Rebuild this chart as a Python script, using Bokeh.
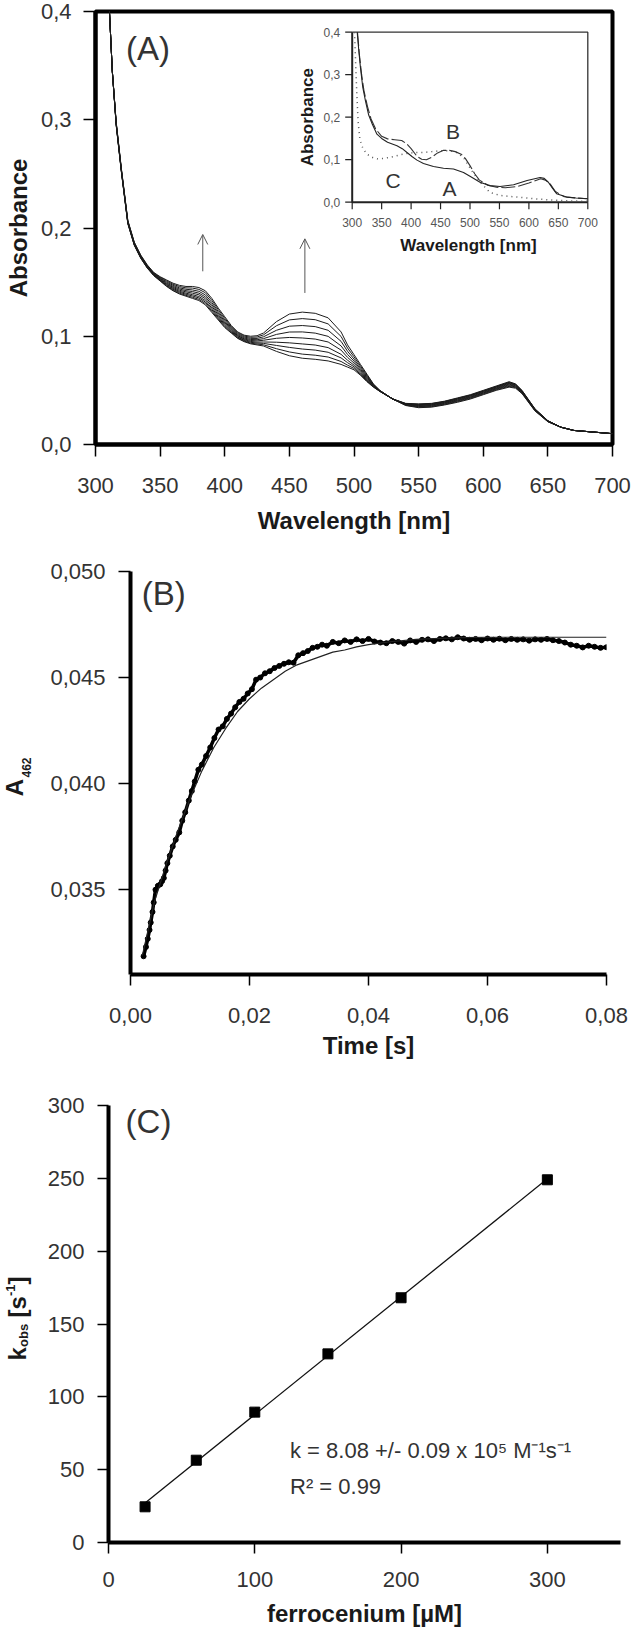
import math
from bokeh.plotting import figure
from bokeh.layouts import column, row
from bokeh.models import (Range1d, FixedTicker, CustomJSTickFormatter, Label,
                          Arrow, OpenHead)
from bokeh.core.properties import value
from bokeh.embed import file_html
from bokeh.resources import INLINE

FONT = "Liberation Sans"
TXT = "#333333"
LAB = "#1a1a1a"

# ---------------- Panel A : spectra ----------------
wavelength = [310, 313, 316, 320, 325, 330, 335, 340, 345, 350, 355, 360, 365, 370, 375,
              380, 385, 390, 395, 400, 405, 410, 415, 420, 425, 430, 440, 450, 460, 470,
              480, 490, 495, 500, 505, 510, 515, 520, 530, 540, 550, 560, 570, 580, 590,
              600, 610, 620, 625, 630, 640, 650, 660, 670, 680, 690, 700]
spec_1 = [0.420, 0.345, 0.295, 0.252, 0.204, 0.184, 0.172, 0.163, 0.156, 0.151, 0.146, 0.142, 0.139, 0.137, 0.135,
          0.133, 0.129, 0.122, 0.115, 0.108, 0.103, 0.098, 0.095, 0.093, 0.092, 0.091, 0.086, 0.082, 0.0797, 0.0787,
          0.0772, 0.074, 0.0715, 0.069, 0.064, 0.058, 0.053, 0.049, 0.042, 0.038, 0.0375, 0.038, 0.040, 0.043, 0.046,
          0.050, 0.054, 0.058, 0.056, 0.050, 0.033, 0.022, 0.016, 0.013, 0.012, 0.011, 0.010]
spec_2 = [0.420, 0.345, 0.2953, 0.2523, 0.2043, 0.1843, 0.1723, 0.1633, 0.1563, 0.1514, 0.1465, 0.1426, 0.1397, 0.1378, 0.1360,
          0.1341, 0.1302, 0.1232, 0.1160, 0.1089, 0.1036, 0.0985, 0.0955, 0.0936, 0.0928, 0.0921, 0.0885, 0.0855, 0.0835, 0.0825,
          0.0808, 0.0767, 0.0733, 0.0703, 0.0649, 0.0586, 0.0533, 0.0491, 0.042, 0.0378, 0.0372, 0.0377, 0.0397, 0.0426, 0.0456,
          0.0496, 0.0536, 0.0575, 0.0556, 0.0497, 0.0328, 0.0219, 0.016, 0.013, 0.012, 0.011, 0.010]
spec_3 = [0.420, 0.345, 0.2956, 0.2526, 0.2046, 0.1846, 0.1726, 0.1636, 0.1566, 0.1518, 0.1472, 0.1434, 0.1406, 0.1388, 0.1372,
          0.1354, 0.1316, 0.1246, 0.1172, 0.1100, 0.1044, 0.0992, 0.0962, 0.0944, 0.0937, 0.0934, 0.0915, 0.0897, 0.0882, 0.0872,
          0.0852, 0.0800, 0.0756, 0.0718, 0.0660, 0.0594, 0.0536, 0.0492, 0.042, 0.0376, 0.0368, 0.0373, 0.0393, 0.0422, 0.0452,
          0.0492, 0.0532, 0.0570, 0.0552, 0.0494, 0.0326, 0.0218, 0.016, 0.013, 0.012, 0.011, 0.010]
spec_4 = [0.420, 0.345, 0.2959, 0.2529, 0.2049, 0.1849, 0.1729, 0.1639, 0.1569, 0.1522, 0.1479, 0.1442, 0.1415, 0.1398, 0.1384,
          0.1367, 0.1330, 0.1260, 0.1184, 0.1111, 0.1052, 0.0999, 0.0969, 0.0952, 0.0946, 0.0947, 0.0945, 0.0939, 0.0929, 0.0919,
          0.0895, 0.0833, 0.0779, 0.0733, 0.0671, 0.0602, 0.0539, 0.0493, 0.042, 0.0374, 0.0364, 0.0369, 0.0389, 0.0418, 0.0448,
          0.0488, 0.0528, 0.0564, 0.0548, 0.0491, 0.0324, 0.0217, 0.016, 0.013, 0.012, 0.011, 0.010]
spec_5 = [0.420, 0.345, 0.2963, 0.2533, 0.2053, 0.1853, 0.1733, 0.1643, 0.1573, 0.1528, 0.1486, 0.1451, 0.1425, 0.1410, 0.1398,
          0.1383, 0.1347, 0.1277, 0.1198, 0.1124, 0.1061, 0.1006, 0.0976, 0.0961, 0.0957, 0.0963, 0.0981, 0.0989, 0.0984, 0.0974,
          0.0947, 0.0872, 0.0805, 0.0752, 0.0684, 0.0611, 0.0543, 0.0494, 0.042, 0.0371, 0.0360, 0.0365, 0.0385, 0.0412, 0.0442,
          0.0482, 0.0522, 0.0558, 0.0542, 0.0487, 0.0321, 0.0216, 0.016, 0.013, 0.012, 0.011, 0.010]
spec_6 = [0.420, 0.345, 0.2967, 0.2537, 0.2057, 0.1857, 0.1737, 0.1647, 0.1577, 0.1533, 0.1494, 0.1460, 0.1436, 0.1421, 0.1413,
          0.1398, 0.1364, 0.1294, 0.1213, 0.1137, 0.1070, 0.1014, 0.0984, 0.0970, 0.0968, 0.0978, 0.1017, 0.1039, 0.1040, 0.1029,
          0.0999, 0.0911, 0.0832, 0.0770, 0.0697, 0.0620, 0.0547, 0.0496, 0.042, 0.0369, 0.0355, 0.0360, 0.0380, 0.0407, 0.0437,
          0.0477, 0.0517, 0.0551, 0.0537, 0.0483, 0.0319, 0.0214, 0.016, 0.013, 0.012, 0.011, 0.010]
spec_7 = [0.420, 0.345, 0.2971, 0.2541, 0.2061, 0.1861, 0.1741, 0.1651, 0.1581, 0.1538, 0.1503, 0.1470, 0.1447, 0.1434, 0.1428,
          0.1415, 0.1382, 0.1312, 0.1228, 0.1151, 0.1080, 0.1023, 0.0993, 0.0980, 0.0980, 0.0995, 0.1055, 0.1093, 0.1099, 0.1089,
          0.1055, 0.0953, 0.0861, 0.0789, 0.0711, 0.0630, 0.0551, 0.0497, 0.042, 0.0366, 0.0350, 0.0355, 0.0375, 0.0402, 0.0432,
          0.0472, 0.0512, 0.0544, 0.0532, 0.0479, 0.0316, 0.0213, 0.016, 0.013, 0.012, 0.011, 0.010]
spec_8 = [0.420, 0.345, 0.2976, 0.2546, 0.2066, 0.1866, 0.1746, 0.1656, 0.1586, 0.1544, 0.1512, 0.1480, 0.1459, 0.1447, 0.1445,
          0.1433, 0.1402, 0.1332, 0.1245, 0.1166, 0.1090, 0.1032, 0.1002, 0.0990, 0.0993, 0.1013, 0.1097, 0.1151, 0.1163, 0.1153,
          0.1114, 0.0998, 0.0891, 0.0810, 0.0726, 0.0640, 0.0556, 0.0499, 0.042, 0.0363, 0.0345, 0.0350, 0.0370, 0.0396, 0.0426,
          0.0466, 0.0506, 0.0537, 0.0526, 0.0474, 0.0313, 0.0211, 0.016, 0.013, 0.012, 0.011, 0.010]
spec_9 = [0.420, 0.345, 0.298, 0.255, 0.207, 0.187, 0.175, 0.166, 0.159, 0.155, 0.152, 0.149, 0.147, 0.146, 0.146,
          0.145, 0.142, 0.135, 0.126, 0.118, 0.110, 0.104, 0.101, 0.100, 0.1005, 0.103, 0.1135, 0.1205, 0.1223, 0.1212,
          0.117, 0.104, 0.092, 0.083, 0.074, 0.065, 0.056, 0.050, 0.042, 0.036, 0.034, 0.0345, 0.0365, 0.039, 0.042,
          0.046, 0.050, 0.053, 0.052, 0.047, 0.031, 0.021, 0.016, 0.013, 0.012, 0.011, 0.010]
spectra = [spec_1, spec_2, spec_3, spec_4, spec_5, spec_6, spec_7, spec_8, spec_9]

arrow_nm = [383, 462]
arrow_from = [0.160, 0.140]
arrow_to = [0.194, 0.190]

a_xticks = [300, 350, 400, 450, 500, 550, 600, 650, 700]
a_xlabels = ["300", "350", "400", "450", "500", "550", "600", "650", "700"]
a_yticks = [0.0, 0.1, 0.2, 0.3, 0.4]
a_ylabels = ["0,0", "0,1", "0,2", "0,3", "0,4"]

# inset spectra: A (solid), B (dashed), C (dotted)
inset_a_nm = [308.5, 311, 314, 318, 322.6, 328, 334, 342, 350, 360, 376, 385, 393, 402, 410, 421, 438,
              455, 472, 489, 500, 517, 534, 551, 574, 597, 619, 626, 633, 640, 647, 664, 680, 700]
inset_a_abs = [0.400, 0.360, 0.317, 0.270, 0.238, 0.205, 0.184, 0.160, 0.150, 0.141, 0.133, 0.126, 0.117, 0.107,
               0.099, 0.091, 0.084, 0.080, 0.078, 0.070, 0.061, 0.047, 0.039, 0.037, 0.041, 0.051, 0.058, 0.056,
               0.047, 0.033, 0.020, 0.012, 0.010, 0.008]
inset_b_nm = [309, 312, 316, 320, 326, 332, 340, 350, 360, 372, 384, 392, 400, 410, 418, 426, 435, 445, 455,
              465, 475, 485, 492, 500, 508, 516, 530, 545, 560, 580, 600, 620, 628, 636, 645, 660, 680, 700]
inset_b_abs = [0.400, 0.350, 0.300, 0.262, 0.225, 0.196, 0.172, 0.155, 0.149, 0.147, 0.145, 0.138, 0.126, 0.108,
               0.101, 0.100, 0.106, 0.116, 0.122, 0.122, 0.119, 0.113, 0.103, 0.086, 0.067, 0.052, 0.040, 0.035,
               0.034, 0.037, 0.045, 0.055, 0.052, 0.043, 0.025, 0.013, 0.010, 0.008]
inset_c_nm = [304, 306, 308, 310, 313, 318, 325, 335, 343, 352, 362, 372, 383, 395, 407, 420, 435, 450, 465,
              476, 489, 503, 517, 534, 551, 580, 610, 640, 670, 700]
inset_c_abs = [0.400, 0.320, 0.250, 0.190, 0.148, 0.127, 0.113, 0.105, 0.102, 0.103, 0.105, 0.108, 0.112, 0.115,
               0.117, 0.117, 0.119, 0.121, 0.121, 0.118, 0.105, 0.074, 0.047, 0.023, 0.016, 0.012, 0.008, 0.005,
               0.003, 0.002]
inset_xticks = [300, 350, 400, 450, 500, 550, 600, 650, 700]
inset_xlabels = ["300", "350", "400", "450", "500", "550", "600", "650", "700"]
inset_yticks = [0.0, 0.1, 0.2, 0.3, 0.4]
inset_ylabels = ["0,0", "0,1", "0,2", "0,3", "0,4"]

# ---------------- Panel B : kinetic trace at 462 nm ----------------
trace_t = [0.0022, 0.0026, 0.0029, 0.0032, 0.0034, 0.0037, 0.0039, 0.0042, 0.0046, 0.0050,
           0.0053, 0.0056, 0.0059, 0.0062, 0.0066, 0.0071, 0.0076, 0.0082, 0.0087, 0.0092,
           0.0098, 0.0103, 0.0108, 0.0114, 0.0120, 0.0127, 0.0134, 0.0141, 0.0148, 0.0155,
           0.0162, 0.0169, 0.0176, 0.0183, 0.0190, 0.0197, 0.0204, 0.0211, 0.0218, 0.0226,
           0.0234, 0.0242, 0.0250, 0.0258, 0.0266, 0.0274, 0.0282, 0.0290, 0.0298, 0.0306,
           0.0314, 0.0322, 0.0330, 0.0340, 0.0350, 0.0360, 0.0370, 0.0380, 0.0390, 0.0400,
           0.041, 0.042, 0.043, 0.044, 0.045, 0.046, 0.047, 0.048, 0.049, 0.050,
           0.051, 0.052, 0.053, 0.054, 0.055, 0.056, 0.057, 0.058, 0.059, 0.060,
           0.061, 0.062, 0.063, 0.064, 0.065, 0.066, 0.067, 0.068, 0.069, 0.070,
           0.071, 0.072, 0.073, 0.074, 0.075, 0.076, 0.077, 0.078, 0.079, 0.080]
trace_a = [0.03186, 0.03230, 0.03268, 0.03310, 0.03345, 0.03395, 0.03440, 0.03500, 0.03518, 0.03525,
           0.03540, 0.03555, 0.03590, 0.03625, 0.03660, 0.03704, 0.03735, 0.03770, 0.03825, 0.03865,
           0.03920, 0.03965, 0.04010, 0.04065, 0.04090, 0.04130, 0.04170, 0.04215, 0.04255, 0.04270,
           0.04305, 0.04330, 0.04360, 0.04385, 0.04400, 0.04425, 0.04445, 0.04490, 0.04500, 0.04520,
           0.04530, 0.04545, 0.04555, 0.04565, 0.04572, 0.04570, 0.04605, 0.04615, 0.04625, 0.04640,
           0.04645, 0.04655, 0.04650, 0.04668, 0.04662, 0.04675, 0.04668, 0.04680, 0.04672, 0.04682,
           0.04670, 0.04665, 0.04662, 0.04672, 0.04668, 0.04660, 0.04675, 0.04668, 0.04678, 0.04680,
           0.04672, 0.04682, 0.04685, 0.04680, 0.04690, 0.04684, 0.04678, 0.04682, 0.04676, 0.04684,
           0.04678, 0.04683, 0.04676, 0.04682, 0.04678, 0.04680, 0.04674, 0.04680, 0.04678, 0.04682,
           0.04676, 0.04672, 0.04665, 0.04655, 0.04650, 0.04642, 0.04650, 0.04645, 0.04640, 0.04643]
fit_t = [0.002, 0.004, 0.006, 0.008, 0.010, 0.012, 0.014, 0.016, 0.018, 0.020, 0.022, 0.024, 0.026, 0.028,
         0.030, 0.032, 0.034, 0.036, 0.038, 0.040, 0.044, 0.048, 0.052, 0.056, 0.060, 0.070, 0.080]
fit_a = [0.0319, 0.0344, 0.0362, 0.0378, 0.0393, 0.0406, 0.0417, 0.0426, 0.0434, 0.0440, 0.0445, 0.0449, 0.0453,
         0.0456, 0.0458, 0.0460, 0.0462, 0.0463, 0.04645, 0.04655, 0.0467, 0.0468, 0.04685, 0.04688, 0.0469,
         0.0469, 0.0469]
b_xticks = [0.0, 0.02, 0.04, 0.06, 0.08]
b_xlabels = ["0,00", "0,02", "0,04", "0,06", "0,08"]
b_yticks = [0.035, 0.040, 0.045, 0.050]
b_ylabels = ["0,035", "0,040", "0,045", "0,050"]

# ---------------- Panel C : kobs vs ferrocenium ----------------
ferro = [25, 60, 100, 150, 200, 300]
kobs = [24.5, 56.5, 89.5, 129.5, 168, 249]
c_xticks = [0, 100, 200, 300]
c_xlabels = ["0", "100", "200", "300"]
c_yticks = [0, 50, 100, 150, 200, 250, 300]
c_ylabels = ["0", "50", "100", "150", "200", "250", "300"]


def fmt(ticks, labels):
    return CustomJSTickFormatter(args=dict(tvals=list(ticks), tlabs=list(labels)), code="""
let b = 0, d = Infinity;
for (let i = 0; i < tvals.length; i++) { const e = Math.abs(tvals[i] - tick); if (e < d) { d = e; b = i; } }
return tlabs[b];""")


def style_axis(ax, ticks, labels, tick_out, standoff):
    ax.ticker = FixedTicker(ticks=list(ticks))
    ax.formatter = fmt(ticks, labels)
    ax.axis_line_width = 4
    ax.axis_line_color = "black"
    ax.major_tick_out = tick_out
    ax.major_tick_in = 0
    ax.major_tick_line_width = 1.5
    ax.major_tick_line_color = "black"
    ax.minor_tick_line_color = None
    ax.major_label_text_font = FONT
    ax.major_label_text_font_size = "22px"
    ax.major_label_text_color = TXT
    ax.major_label_standoff = standoff
    ax.axis_label_text_font = FONT
    ax.axis_label_text_font_size = "24px"
    ax.axis_label_text_font_style = "bold"
    ax.axis_label_text_color = LAB


def make_fig(w, h, xr, yr, left, right, top, bottom):
    p = figure(width=w, height=h, x_range=Range1d(*xr), y_range=Range1d(*yr),
               output_backend="svg", toolbar_location=None,
               min_border_left=left, min_border_right=right,
               min_border_top=top, min_border_bottom=bottom)
    p.grid.visible = False
    p.background_fill_color = "white"
    p.border_fill_color = "white"
    p.frame_align = False
    return p


def label_fig(w, h):
    f = figure(width=w, height=h, x_range=Range1d(0, w), y_range=Range1d(0, h),
               output_backend="svg", toolbar_location=None, min_border=0,
               x_axis_type=None, y_axis_type=None)
    f.outline_line_color = None
    f.background_fill_color = "white"
    f.border_fill_color = "white"
    f.frame_align = False
    return f


def add_label(p, sx, sy, text, size, style="normal", color=TXT, angle=0.0,
              align="center", baseline="middle"):
    p.add_layout(Label(x=sx, y=sy, x_units="screen", y_units="screen", text=text,
                       text_font=FONT, text_font_size=f"{size}px", text_font_style=style,
                       text_color=color, angle=angle, text_align=align, text_baseline=baseline))


W = 632
ROT = math.pi / 2

# ================= Panel A =================
A_H = 548
A_L, A_R, A_T, A_B = 95, 20, 11, 104
pA = make_fig(W, A_H, (a_xticks[0], a_xticks[-1]), (a_yticks[0], a_yticks[-1]), A_L, A_R, A_T, A_B)
pA.outline_line_color = "black"
pA.outline_line_width = 4
style_axis(pA.xaxis[0], a_xticks, a_xlabels, 12, 21)
style_axis(pA.yaxis[0], a_yticks, a_ylabels, 12, 12)
pA.xaxis[0].axis_label = "Wavelength [nm]"
pA.xaxis[0].axis_label_standoff = 11
pA.yaxis[0].axis_label = "Absorbance"
pA.yaxis[0].axis_label_standoff = 6

for s in spectra:
    pA.line(wavelength, s, line_color="#1c1c1c", line_width=1)

for xn, y0, y1 in zip(arrow_nm, arrow_from, arrow_to):
    pA.add_layout(Arrow(end=OpenHead(size=10, line_color="#555555", line_width=1),
                        x_start=xn, y_start=y0, x_end=xn, y_end=y1,
                        line_color="#555555", line_width=1))

# inset geometry (pixels, relative to the main frame)
frame_w = W - A_L - A_R
frame_h = A_H - A_T - A_B
A_FL, A_FB = A_L, A_H - A_B            # frame left / bottom in page pixels
in_left, in_w = 351.7 - A_FL, 235.6
in_bottom, in_h = A_FB - 201.7, 170.0
ix0, ix1 = inset_xticks[0], inset_xticks[-1]
iy0, iy1 = inset_yticks[0], inset_yticks[-1]
ppx = in_w / (ix1 - ix0)
ppy = in_h / (iy1 - iy0)
pA.extra_x_ranges = {"ix": Range1d(ix0 - in_left / ppx, ix1 + (frame_w - in_left - in_w) / ppx)}
pA.extra_y_ranges = {"iy": Range1d(iy0 - in_bottom / ppy, iy1 + (frame_h - in_bottom - in_h) / ppy)}
IR = dict(x_range_name="ix", y_range_name="iy")

pA.line([ix0, ix1, ix1], [iy1, iy1, iy0], line_color="#333333", line_width=1.3, **IR)
pA.line([ix0, ix0, ix1], [iy1, iy0, iy0], line_color="#222222", line_width=2, **IR)
tl = 7
pA.segment(x0=inset_xticks, y0=[iy0] * len(inset_xticks), x1=inset_xticks,
           y1=[iy0 - tl / ppy] * len(inset_xticks), line_color="#222222", line_width=1.2, **IR)
pA.segment(x0=[ix0] * len(inset_yticks), y0=inset_yticks, x1=[ix0 - tl / ppx] * len(inset_yticks),
           y1=inset_yticks, line_color="#222222", line_width=1.2, **IR)
pA.text(x=inset_xticks, y=[iy0 - 20 / ppy] * len(inset_xticks), text=inset_xlabels,
        text_align="center", text_baseline="middle", text_font=value(FONT),
        text_font_size="12px", text_color="#555555", **IR)
pA.text(x=[ix0 - 12 / ppx] * len(inset_yticks), y=inset_yticks, text=inset_ylabels,
        text_align="right", text_baseline="middle", text_font=value(FONT),
        text_font_size="12px", text_color="#555555", **IR)
pA.line(inset_c_nm, inset_c_abs, line_color="#555555", line_width=1.5, line_dash="1 4", **IR)
pA.line(inset_b_nm, inset_b_abs, line_color="#333333", line_width=1.1, line_dash="14 3", **IR)
pA.line(inset_a_nm, inset_a_abs, line_color="#222222", line_width=1.1, **IR)

add_label(pA, 147.5 - A_FL, A_FB - 48, "(A)", 33)
add_label(pA, 452.5 - A_FL, A_FB - 130.5, "B", 21)
add_label(pA, 392.5 - A_FL, A_FB - 179.5, "C", 21)
add_label(pA, 449 - A_FL, A_FB - 188, "A", 21)
add_label(pA, 306.7 - A_FL, A_FB - 116.7, "Absorbance", 17, style="bold", color=LAB, angle=ROT)
add_label(pA, 468 - A_FL, A_FB - 245, "Wavelength [nm]", 17, style="bold", color=LAB)

# ================= Panel B =================
B_TOP = A_H
B_H = 527
LW = 36                                 # width of the strip holding the y-axis title
B_L, B_R, B_T, B_B = 94, 26, 23, 101
pB = make_fig(W - LW, B_H, (b_xticks[0], b_xticks[-1]), (0.031, b_yticks[-1]), B_L, B_R, B_T, B_B)
pB.outline_line_color = None
style_axis(pB.xaxis[0], b_xticks, b_xlabels, 11, 22)
style_axis(pB.yaxis[0], b_yticks, b_ylabels, 12, 13)
pB.xaxis[0].axis_label = "Time [s]"
pB.xaxis[0].axis_label_standoff = 6

pB.line(trace_t, trace_a, line_color="black", line_width=3.5)
pB.scatter(trace_t, trace_a, marker="circle", size=5, color="black")
pB.line(fit_t, fit_a, line_color="#222222", line_width=1.2)

B_FL = LW + B_L
B_FB = B_TOP + B_H - B_B
add_label(pB, 163.3 - B_FL, B_FB - 593, "(B)", 33)

labB = label_fig(LW, B_H)
B_BOT = B_TOP + B_H
add_label(labB, 14, B_BOT - 787, "A", 24, style="bold", color=LAB, angle=ROT)
add_label(labB, 26, B_BOT - 767, "462", 12, style="bold", color=LAB, angle=ROT)

# ================= Panel C =================
C_TOP = B_TOP + B_H
C_H = 1629 - C_TOP
C_L, C_R, C_T, C_B = 72, 12, 30, 87
pC = make_fig(W - LW, C_H, (0, 350), (c_yticks[0], c_yticks[-1]), C_L, C_R, C_T, C_B)
pC.outline_line_color = None
style_axis(pC.xaxis[0], c_xticks, c_xlabels, 11, 18)
style_axis(pC.yaxis[0], c_yticks, c_ylabels, 11, 13)
pC.xaxis[0].axis_label = "ferrocenium [µM]"
pC.xaxis[0].axis_label_standoff = 10

n = len(ferro)
mx = sum(ferro) / n
my = sum(kobs) / n
slope = sum((x - mx) * (y - my) for x, y in zip(ferro, kobs)) / sum((x - mx) ** 2 for x in ferro)
icpt = my - slope * mx
fit_x = [ferro[0], ferro[-1]]
fit_y = [icpt + slope * x for x in fit_x]
pC.line(fit_x, fit_y, line_color="#111111", line_width=1.3)
pC.scatter(ferro, kobs, marker="square", size=10, color="black")

C_FL = LW + C_L
C_FB = C_TOP + C_H - C_B
add_label(pC, 148 - C_FL, C_FB - 1121, "(C)", 33)
add_label(pC, 289.5 - C_FL, C_FB - 1450, "k = 8.08 +/- 0.09 x 10\u2075 M\u207b\u00b9s\u207b\u00b9", 22, align="left")
add_label(pC, 289.5 - C_FL, C_FB - 1486, "R\u00b2 = 0.99", 22, align="left")

labC = label_fig(LW, C_H)
C_BOT = C_TOP + C_H
add_label(labC, 17, C_BOT - 1360, "k", 24, style="bold", color=LAB, angle=ROT, align="left")
add_label(labC, 23, C_BOT - 1346.5, "obs", 13, style="bold", color=LAB, angle=ROT, align="left")
add_label(labC, 17, C_BOT - 1317, "[s", 24, style="bold", color=LAB, angle=ROT, align="left")
add_label(labC, 10, C_BOT - 1295.5, "-1", 13, style="bold", color=LAB, angle=ROT, align="left")
add_label(labC, 17, C_BOT - 1284, "]", 24, style="bold", color=LAB, angle=ROT, align="left")

layout = column(pA, row(labB, pB, spacing=0), row(labC, pC, spacing=0), spacing=0)
open("out.html", "w").write(file_html(layout, INLINE))
